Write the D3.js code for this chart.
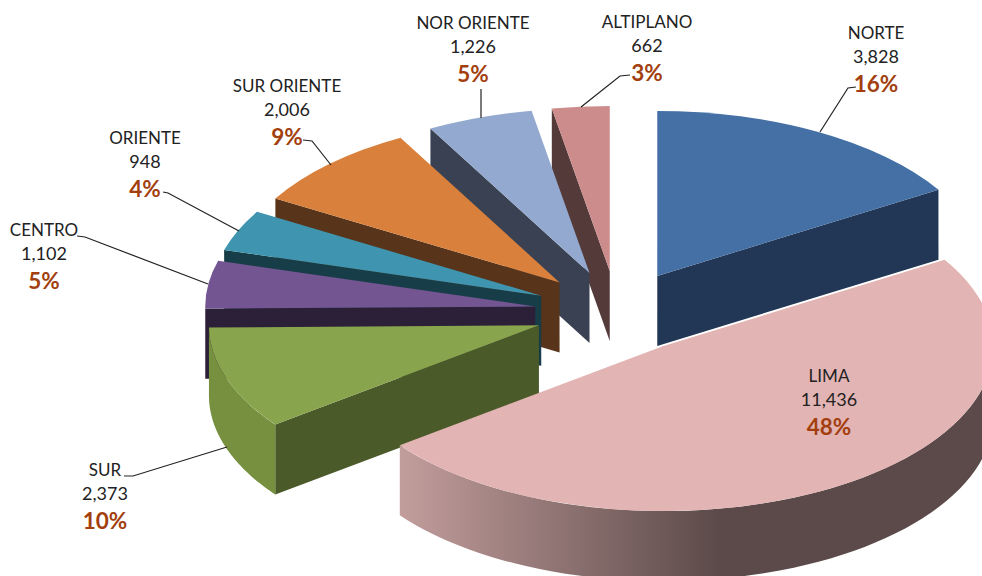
<!DOCTYPE html>
<html>
<head>
<meta charset="utf-8">
<script src="https://cdn.jsdelivr.net/npm/d3@7"></script>
<style>
  body { margin: 0; background: #fff; overflow: hidden; }
  text { font-family: Lato, "Open Sans", sans-serif; text-anchor: middle; }
  .name { font-size: 17px; fill: #222; }
  .value { font-size: 18px; fill: #222; }
  .pct { font-size: 22.5px; font-weight: bold; fill: #a33f0e; }
  .leader { fill: none; stroke: #222; stroke-width: 1.2; }
</style>
</head>
<body>
<div id="chart"></div>
<script>
// data, clockwise from 12 o'clock
var regions = ["NORTE", "LIMA", "SUR", "CENTRO", "ORIENTE", "SUR ORIENTE", "NOR ORIENTE", "ALTIPLANO"];
var values = [3828, 11436, 2373, 1102, 948, 2006, 1226, 662];
var percents = ["16%", "48%", "10%", "5%", "4%", "9%", "5%", "3%"];

// colours per region
var topColors = ["#4470a5", "#e2b4b3", "#88a44d", "#725591", "#3f95af", "#d9803c", "#93a9cf", "#cc8c8c"];
var sideColors = ["#223755", "#5b4a49", "#4a5a28", "#2b2038", "#173d48", "#57341a", "#3a4153", "#553a3a"];

// label anchor (centre x, baseline of the name) and leader lines
var labelPos = [[876, 39], [829, 382], [105, 476], [44, 236], [145, 144], [287, 92], [473, 29], [647, 28]];
var leaders = [
  [[820, 132], [848, 88], [856, 87]],
  [],
  [[227, 447], [133, 476], [124, 476]],
  [[208, 284], [85, 237], [77, 236]],
  [[239, 231], [168, 193], [163, 192]],
  [[331, 165], [312, 141], [303, 140]],
  [[481, 118], [481, 89]],
  [[581, 107], [620, 76], [630, 75]]
];

var svgWidth = 982;
var svgHeight = 576;

// pie geometry
var cx = 617, cy = 312;
var rx = 330, ry = 165;
var depth = 70;
var explode = 0.25;

var svg = d3.select("#chart").append("svg")
  .attr("width", svgWidth)
  .attr("height", svgHeight);

// plane of the pie (unit circle) to the screen
var xScale = d3.scaleLinear().domain([-1, 1]).range([cx - rx, cx + rx]);
var yScale = d3.scaleLinear().domain([-1, 1]).range([cy + ry, cy - ry]);

var pie = d3.pie().sort(null).value(d => d);
var arcs = pie(values);
arcs.forEach(function(d, i) {
  var mid = (d.startAngle + d.endAngle) / 2;
  d.region = regions[i];
  d.ox = explode * Math.sin(mid);
  d.oy = explode * Math.cos(mid);
  d.top = topColors[i];
  d.side = sideColors[i];
});

// point of a slice on the top face, r = 0 is the apex
function pt(d, angle, r, dy) {
  return [
    xScale(d.ox + r * Math.sin(angle)),
    yScale(d.oy + r * Math.cos(angle)) + (dy || 0)
  ];
}

var line = d3.line();

// flat wall along one radial edge
function radialWall(d, angle) {
  return line([pt(d, angle, 0), pt(d, angle, 1), pt(d, angle, 1, depth), pt(d, angle, 0, depth)]) + "Z";
}

// curved wall along the rim between two angles
function rimWall(d, a0, a1) {
  var angles = d3.range(0, 61).map(k => a0 + (a1 - a0) * k / 60);
  var upper = angles.map(a => pt(d, a, 1));
  var lower = angles.slice().reverse().map(a => pt(d, a, 1, depth));
  return line(upper.concat(lower)) + "Z";
}

var defs = svg.append("defs");

var limaGrad = defs.append("linearGradient")
  .attr("id", "limaWall")
  .attr("gradientUnits", "userSpaceOnUse")
  .attr("x1", 400).attr("x2", 720).attr("y1", 0).attr("y2", 0);
limaGrad.append("stop").attr("offset", 0).attr("stop-color", "#c29d9c");
limaGrad.append("stop").attr("offset", 1).attr("stop-color", "#5b4a49");

var faceArc = d3.arc().innerRadius(0).outerRadius(rx);

// back to front: left slices from the top down, then the two right ones
var drawOrder = [7, 6, 5, 4, 3, 2, 0, 1];

drawOrder.forEach(function(i) {
  var d = arcs[i];
  var g = svg.append("g").attr("class", "slice");

  if (i === 0) {
    g.append("path").attr("d", radialWall(d, d.endAngle)).attr("fill", d.side);
  } else if (i === 1) {
    g.append("path").attr("d", rimWall(d, Math.PI / 2, d.endAngle)).attr("fill", "url(#limaWall)");
  } else {
    g.append("path").attr("d", radialWall(d, d.startAngle)).attr("fill", d.side);
    if (i === 2) {
      g.append("path").attr("d", rimWall(d, d.startAngle, d.endAngle)).attr("fill", "#769040");
    }
  }

  g.append("path")
    .attr("d", faceArc(d))
    .attr("transform", `translate(${xScale(d.ox)}, ${yScale(d.oy)}) scale(1, ${ry / rx})`)
    .attr("fill", d.top);
});

// leader lines
svg.selectAll(".leader")
  .data(leaders.filter(l => l.length))
  .enter()
  .append("path")
  .attr("class", "leader")
  .attr("d", d => line(d));

// labels
var fmt = d3.format(",");
var labels = svg.selectAll(".label")
  .data(arcs)
  .enter()
  .append("g")
  .attr("class", "label")
  .attr("transform", (d, i) => `translate(${labelPos[i][0]}, ${labelPos[i][1]})`);

labels.append("text").attr("class", "name").text(d => d.region);
labels.append("text").attr("class", "value").attr("y", 24).text(d => fmt(d.value));
labels.append("text").attr("class", "pct").attr("y", 53).text((d, i) => percents[i]);
</script>
</body>
</html>
